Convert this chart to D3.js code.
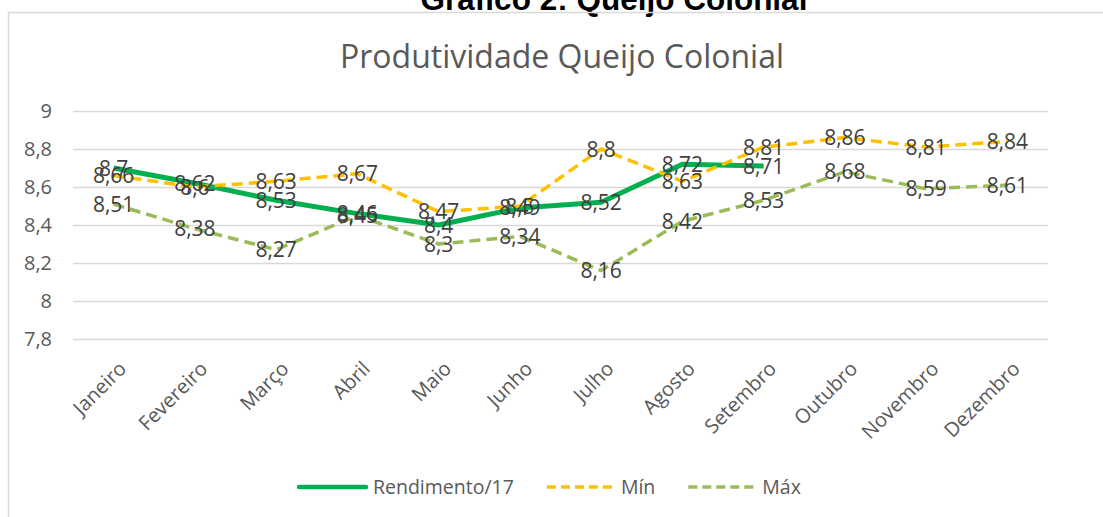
<!DOCTYPE html>
<html lang="pt">
<head>
<meta charset="UTF-8" />
<title>Produtividade Queijo Colonial</title>
<script src="https://d3js.org/d3.v7.min.js"></script>
<style>
  body { margin: 0; background: #fff; }
  text { font-family: "Open Sans", sans-serif; }
  .gridlines line { stroke: #d9d9d9; stroke-width: 1.5; }
  .gridlines .domain { display: none; }
</style>
</head>
<body>
<svg id="chart" width="1103" height="517"></svg>
<script>
  // data
  const months = ["Janeiro", "Fevereiro", "Março", "Abril", "Maio", "Junho",
                  "Julho", "Agosto", "Setembro", "Outubro", "Novembro", "Dezembro"];
  const rendimento = [8.7, 8.62, 8.53, 8.46, 8.4, 8.49, 8.52, 8.72, 8.71, null, null, null];
  const minimo = [8.66, 8.6, 8.63, 8.67, 8.47, 8.5, 8.8, 8.63, 8.81, 8.86, 8.81, 8.84];
  const maximo = [8.51, 8.38, 8.27, 8.45, 8.3, 8.34, 8.16, 8.42, 8.53, 8.68, 8.59, 8.61];
  const yTicks = [7.8, 8, 8.2, 8.4, 8.6, 8.8, 9];

  const series = [
    { name: "Rendimento/17", values: rendimento, color: "#00b050", width: 5, dash: null },
    { name: "Mín", values: minimo, color: "#ffc000", width: 3.5, dash: "11,6" },
    { name: "Máx", values: maximo, color: "#9bbb59", width: 3.5, dash: "11,6" }
  ];

  const svg = d3.select("#chart");
  const plot = { left: 73, right: 1048, top: 111, bottom: 339 };
  const fmt = v => String(v).replace(".", ",");

  // heading above the chart box
  svg.append("text")
      .attr("x", 614).attr("y", 10)
      .attr("text-anchor", "middle")
      .style("font-family", "'Liberation Sans', Arial, sans-serif")
      .style("font-weight", "bold")
      .style("font-size", "31.5px")
      .attr("fill", "#000")
      .text("Gráfico 2: Queijo Colonial");

  // chart box
  svg.append("rect")
      .attr("x", 8.5).attr("y", 12.5)
      .attr("width", 1200).attr("height", 600)
      .attr("fill", "none")
      .attr("stroke", "#d9d9d9")
      .attr("stroke-width", 1.5);

  svg.append("text")
      .attr("x", 562).attr("y", 68)
      .attr("text-anchor", "middle")
      .style("font-size", "32px")
      .attr("fill", "#595959")
      .text("Produtividade Queijo Colonial");

  const x = d3.scaleBand().domain(months).range([plot.left, plot.right]);
  const y = d3.scaleLinear().domain([7.8, 9]).range([plot.bottom, plot.top]);

  // gridlines
  svg.append("g")
      .attr("class", "gridlines")
      .attr("transform", `translate(${plot.left},0)`)
      .call(d3.axisLeft(y).tickValues(yTicks).tickSize(-(plot.right - plot.left)).tickFormat(""));

  // y labels
  svg.append("g").selectAll("text")
      .data(yTicks)
      .join("text")
      .attr("x", 52)
      .attr("y", d => y(d))
      .attr("dy", "0.35em")
      .attr("text-anchor", "end")
      .style("font-size", "20px")
      .attr("fill", "#595959")
      .text(fmt);

  // x labels, rotated
  svg.append("g").selectAll("text")
      .data(months)
      .join("text")
      .attr("transform", d => `translate(${x(d) + x.bandwidth() / 2 + 14},370) rotate(-45)`)
      .attr("text-anchor", "end")
      .style("font-size", "20px")
      .attr("fill", "#595959")
      .text(d => d);

  const cx = i => x(months[i]) + x.bandwidth() / 2;

  const line = d3.line()
      .defined(d => d != null)
      .x((d, i) => cx(i))
      .y(d => y(d));

  series.forEach(s => {
    svg.append("path")
        .datum(s.values)
        .attr("fill", "none")
        .attr("stroke", s.color)
        .attr("stroke-width", s.width)
        .attr("stroke-dasharray", s.dash)
        .attr("stroke-linejoin", "round")
        .attr("d", line);
  });

  // data labels
  series.forEach(s => {
    svg.append("g").selectAll("text")
        .data(s.values.map((v, i) => ({ v, i })).filter(d => d.v != null))
        .join("text")
        .attr("x", d => cx(d.i))
        .attr("y", d => y(d.v))
        .attr("dy", "0.36em")
        .attr("text-anchor", "middle")
        .style("font-size", "21px")
        .attr("fill", "#404040")
        .text(d => fmt(d.v));
  });

  // legend
  const legend = svg.append("g").attr("transform", "translate(299,487)");
  let lx = 0;
  series.forEach(s => {
    legend.append("line")
        .attr("x1", lx).attr("x2", lx + 67)
        .attr("y1", 0).attr("y2", 0)
        .attr("stroke", s.color)
        .attr("stroke-width", s.dash ? 3.5 : 4.5)
        .attr("stroke-dasharray", s.dash ? "9,5" : null)
        .attr("stroke-linecap", s.dash ? "butt" : "round");
    const t = legend.append("text")
        .attr("x", lx + 74).attr("y", 0)
        .attr("dy", "0.35em")
        .style("font-size", "19.5px")
        .attr("fill", "#595959")
        .text(s.name);
    lx += 74 + t.node().getComputedTextLength() + 33;
  });
</script>
</body>
</html>
